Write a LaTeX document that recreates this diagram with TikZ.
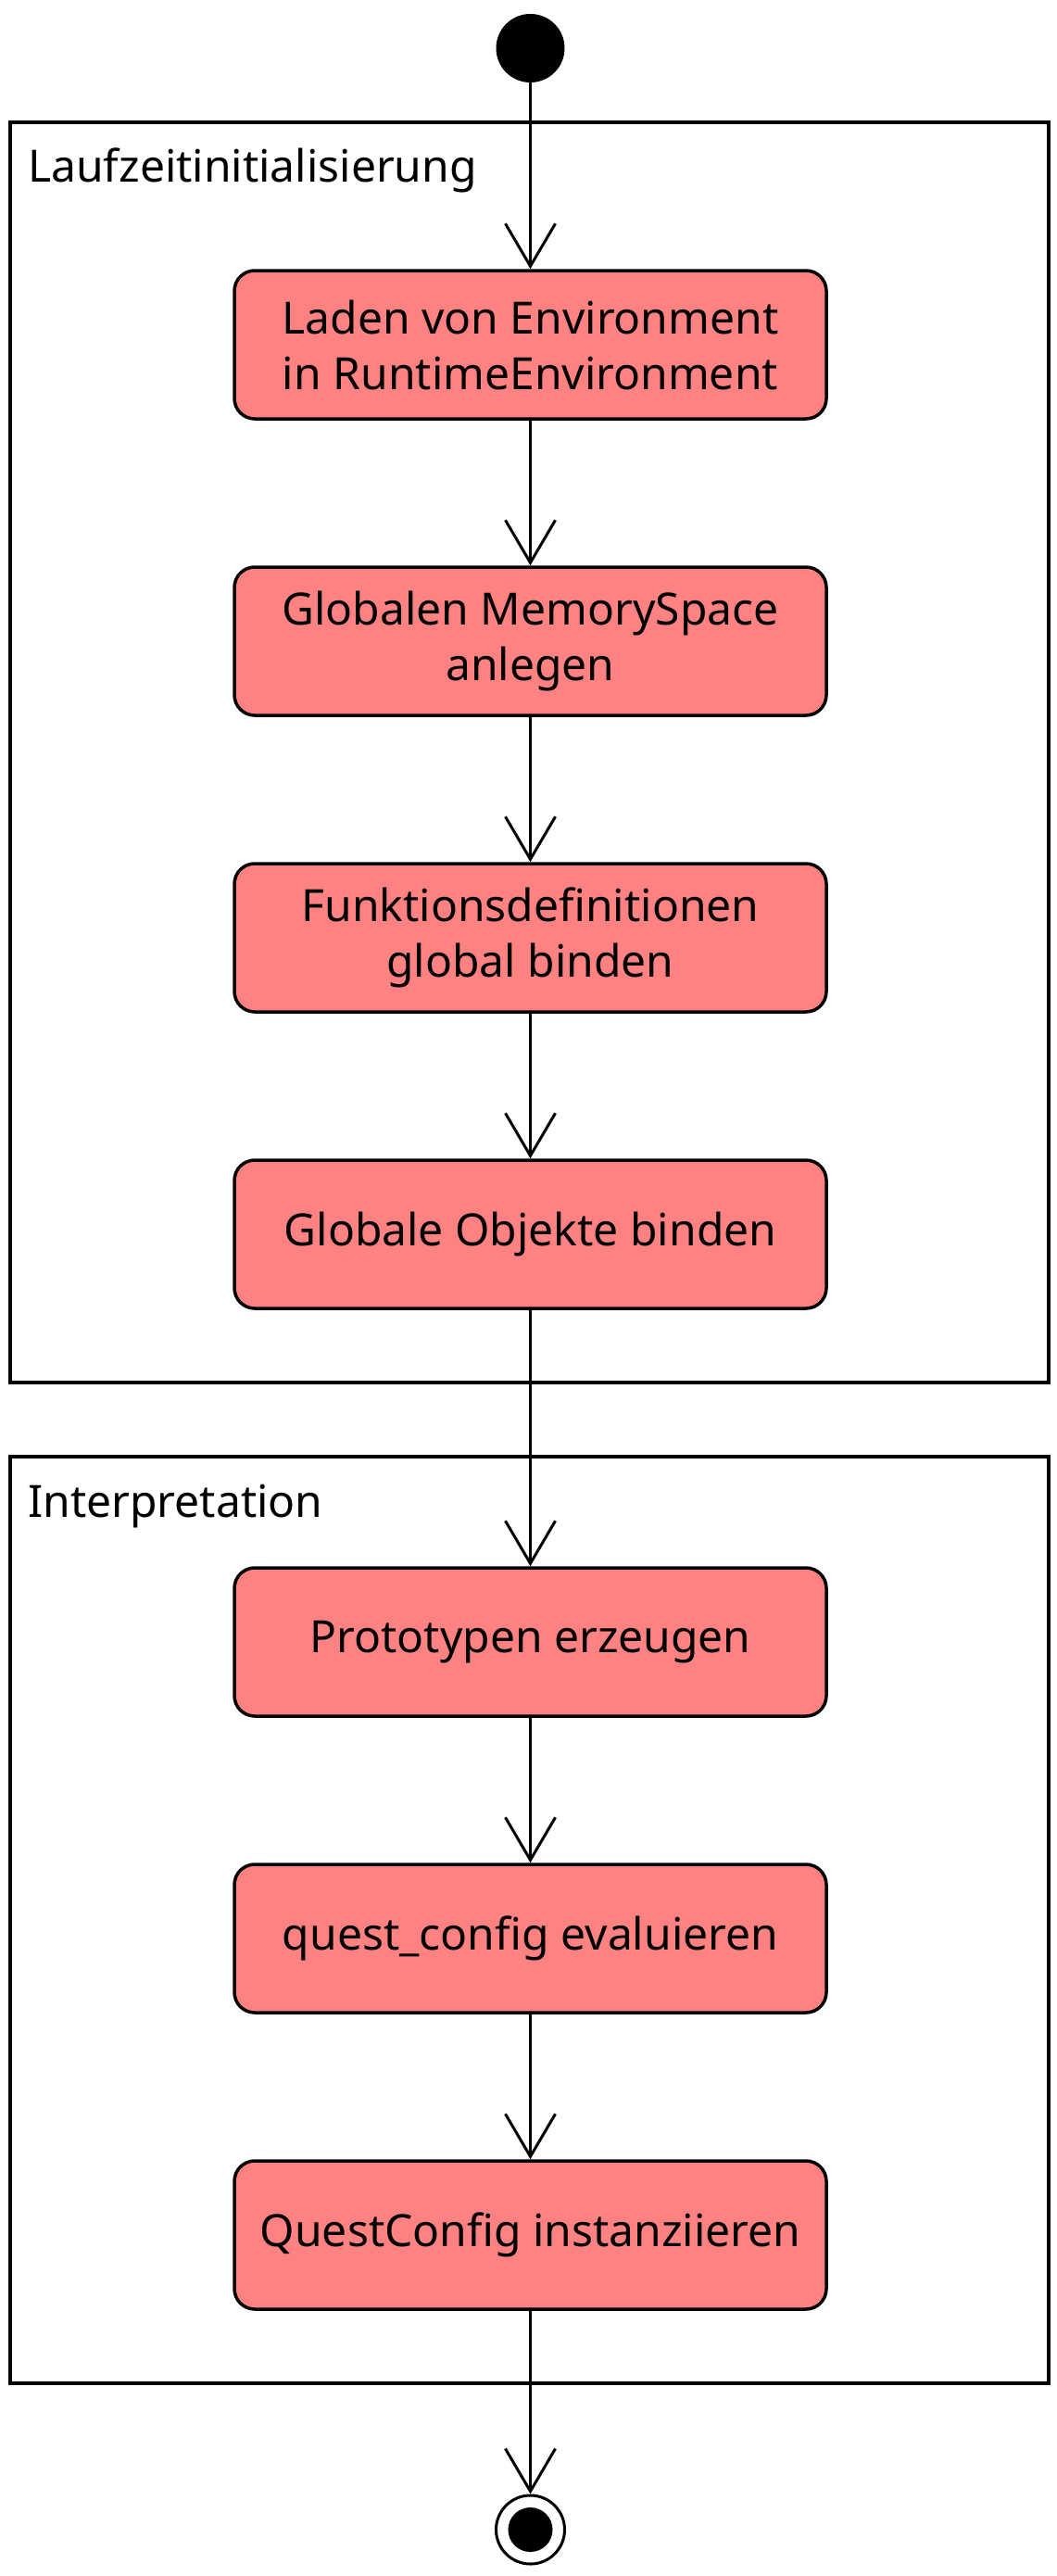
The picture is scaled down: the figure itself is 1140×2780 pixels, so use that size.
\documentclass[tikz,border=0pt]{standalone}
\usepackage{fontspec}
\setmainfont{Noto Sans}
\usetikzlibrary{arrows.meta}
\definecolor{actfill}{RGB}{255,130,130}
\tikzset{
  act/.style={draw=black, line width=3.5pt, fill=actfill, rounded corners=22pt,
    minimum width=639pt, minimum height=160pt, inner sep=0pt, align=center,
    font=\fontsize{48}{60}\selectfont},
  framebox/.style={draw=black, line width=4pt, inner sep=0pt},
  framelabel/.style={anchor=base west, inner sep=0pt, font=\fontsize{48}{60}\selectfont},
  flow/.style={line width=3pt, -{Straight Barb[length=46pt,width=54pt,line width=3pt]}},
}
\begin{document}
\begin{tikzpicture}[x=1pt,y=-1pt]
\useasboundingbox (0,0) rectangle (1140,2780);
% frames
\node[framebox, minimum width=1121pt, minimum height=1360pt] (f1) at (571.5,812) {};
\node[framelabel] (l1) at (30,197) {Laufzeitinitialisierung};
\node[framebox, minimum width=1121pt, minimum height=1000pt] (f2) at (571.5,2072) {};
\node[framelabel] (l2) at (30,1637) {Interpretation};
% start / end
\node[circle, fill=black, minimum size=74pt, inner sep=0pt] (start) at (572.5,52) {};
\node[circle, draw=black, line width=3pt, minimum size=74pt, inner sep=0pt] (end) at (572.5,2730) {};
\node[circle, fill=black, minimum size=48pt, inner sep=0pt] (endin) at (572.5,2730) {};
% activities
\node[act] (b1) at (572.5,372) {Laden von Environment\\in RuntimeEnvironment};
\node[act] (b2) at (572.5,692) {Globalen MemorySpace\\anlegen};
\node[act] (b3) at (572.5,1012) {Funktionsdefinitionen\\global binden};
\node[act] (b4) at (572.5,1332) {Globale Objekte binden};
\node[act] (b5) at (572.5,1772) {Prototypen erzeugen};
\node[act] (b6) at (572.5,2092) {quest\_config evaluieren};
\node[act] (b7) at (572.5,2412) {QuestConfig instanziieren};
% flows
\draw[flow] (start) -- (b1);
\draw[flow] (b1) -- (b2);
\draw[flow] (b2) -- (b3);
\draw[flow] (b3) -- (b4);
\draw[flow] (b4) -- (b5);
\draw[flow] (b5) -- (b6);
\draw[flow] (b6) -- (b7);
\draw[flow] (b7) -- (end);
\end{tikzpicture}
\end{document}
